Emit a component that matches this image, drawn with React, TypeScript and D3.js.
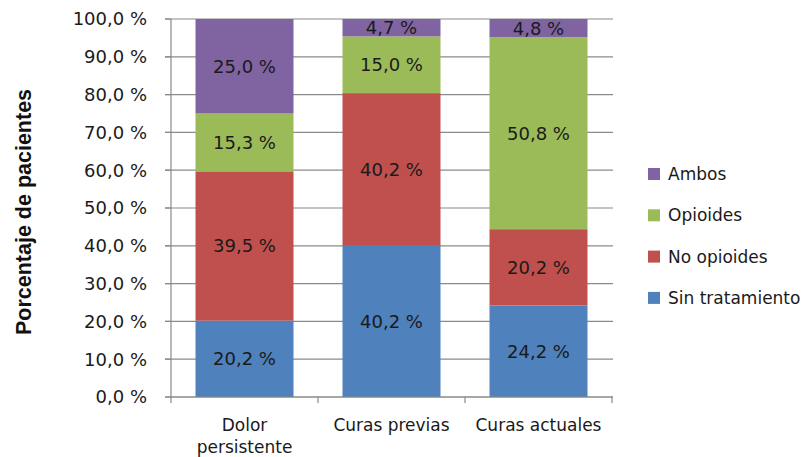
import React from "react";
import * as d3 from "d3";

const categories = ["Dolor persistente", "Curas previas", "Curas actuales"];
const categoryLines = [["Dolor", "persistente"], ["Curas previas"], ["Curas actuales"]];
const seriesNames = ["Sin tratamiento", "No opioides", "Opioides", "Ambos"];
const sinTratamiento = [20.2, 40.2, 24.2];
const noOpioides = [39.5, 40.2, 20.2];
const opioides = [15.3, 15.0, 50.8];
const ambos = [25.0, 4.7, 4.8];
const colors = ["#4F81BD", "#C0504D", "#9BBB59", "#8064A2"];
const yTicks = [0, 10, 20, 30, 40, 50, 60, 70, 80, 90, 100];

const W = 805, H = 457;
const FONT = "'DejaVu Sans', sans-serif";

export default function App() {
  const series = [sinTratamiento, noOpioides, opioides, ambos];
  const rows = categories.map((c, i) => {
    const r: any = { cat: c };
    seriesNames.forEach((s, j) => (r[s] = series[j][i]));
    return r;
  });
  const stacked = d3.stack<any>().keys(seriesNames)(rows);

  const y = d3.scaleLinear().domain([0, 100]).range([397, 19]).clamp(true);
  const x = d3.scaleBand().domain(categories).range([171, 612]).paddingInner(1 / 3).paddingOuter(1 / 6);
  const fmt = (v: number) => v.toFixed(1).replace(".", ",") + " %";
  const step = x.step();

  return (
    <svg width={W} height={H} style={{ position: "absolute", left: 0, top: 0, background: "#fff" }} fontFamily={FONT}>
      {/* gridlines */}
      {yTicks.map((t) => (
        <line key={"g" + t} x1={165} x2={613} y1={y(t)} y2={y(t)} stroke="#8a8a8a" strokeWidth={1.2} />
      ))}
      {/* bars */}
      {stacked.map((layer, j) =>
        layer.map((d, i) => (
          <rect key={j + "-" + i} x={x(categories[i])} width={x.bandwidth()} y={y(d[1])} height={y(d[0]) - y(d[1])} fill={colors[j]} />
        ))
      )}
      {/* bar labels */}
      {stacked.map((layer, j) =>
        layer.map((d, i) => (
          <text key={"l" + j + "-" + i} x={(x(categories[i]) as number) + x.bandwidth() / 2} y={(y(d[0]) + y(d[1])) / 2} dy="0.36em" textAnchor="middle" fontSize={18} fill="#1a1a1a">
            {fmt(series[j][i])}
          </text>
        ))
      )}
      {/* y axis */}
      <line x1={171} x2={171} y1={y(100)} y2={y(0)} stroke="#8a8a8a" strokeWidth={1.2} />
      {yTicks.map((t) => (
        <g key={"t" + t}>
          <line x1={165} x2={171} y1={y(t)} y2={y(t)} stroke="#8a8a8a" strokeWidth={1.2} />
          <text x={147} y={y(t)} dy="0.36em" textAnchor="end" fontSize={18} fill="#1a1a1a">{fmt(t)}</text>
        </g>
      ))}
      {/* x axis */}
      <line x1={171} x2={613} y1={y(0)} y2={y(0)} stroke="#8a8a8a" strokeWidth={1.2} />
      {[0, 1, 2, 3].map((k) => (
        <line key={"xt" + k} x1={171 + k * step} x2={171 + k * step} y1={y(0)} y2={y(0) + 6} stroke="#8a8a8a" strokeWidth={1.2} />
      ))}
      {categoryLines.map((lines, i) => (
        <text key={"c" + i} x={(x(categories[i]) as number) + x.bandwidth() / 2} textAnchor="middle" fontSize={17} fill="#1a1a1a">
          {lines.map((ln, k) => (
            <tspan key={k} x={(x(categories[i]) as number) + x.bandwidth() / 2} y={425 + k * 22} dy="0.36em">{ln}</tspan>
          ))}
        </text>
      ))}
      {/* y title */}
      <text transform="translate(23,212) rotate(-90)" textAnchor="middle" dy="0.36em" fontSize={21.5} fontWeight="bold" fontFamily="'Liberation Sans', Arial, sans-serif" fill="#111">
        Porcentaje de pacientes
      </text>
      {/* legend */}
      {[3, 2, 1, 0].map((j, k) => (
        <g key={"lg" + j} transform={`translate(648,${174 + k * 41.3})`}>
          <rect x={0} y={-6} width={12} height={12} fill={colors[j]} />
          <text x={20} y={0} dy="0.36em" fontSize={17} fill="#1a1a1a">{seriesNames[j]}</text>
        </g>
      ))}
    </svg>
  );
}
